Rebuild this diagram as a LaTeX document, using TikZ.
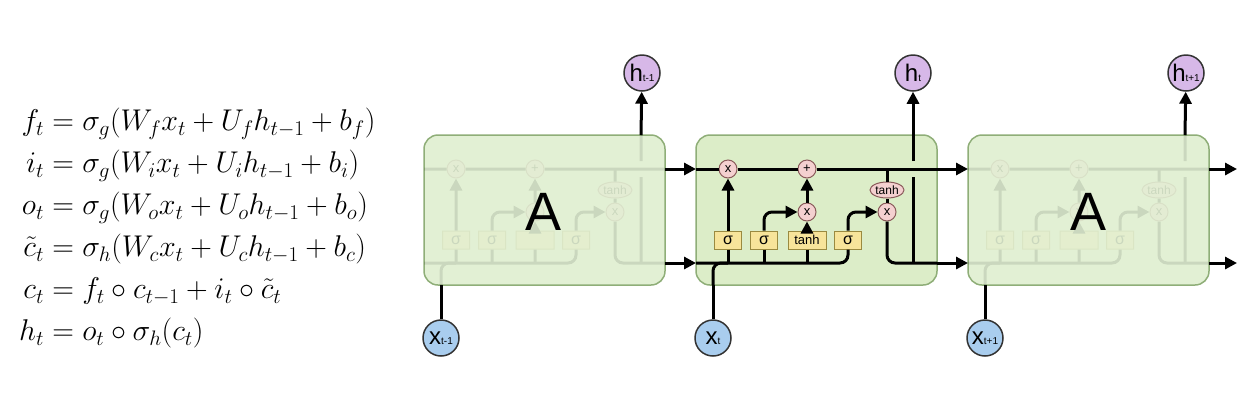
\RequirePackage{fix-cm}
\documentclass[tikz,border=0pt]{standalone}
\usepackage{amsmath}
\usepackage{fontspec}
\newfontfamily\sansf{Liberation Sans}
\usetikzlibrary{arrows.meta,shapes.geometric}
\definecolor{cellfill}{HTML}{DCEDC8}
\definecolor{ghostfill}{HTML}{E2F0D4}
\definecolor{celledge}{HTML}{8FAE78}
\definecolor{gatefill}{HTML}{F7E49A}
\definecolor{gateedge}{HTML}{9A8A40}
\definecolor{opfill}{HTML}{F4D0D0}
\definecolor{opedge}{HTML}{8A5A5A}
\definecolor{hfill}{HTML}{D7B8E8}
\definecolor{xfill}{HTML}{A9CDEE}
\tikzset{
  ln/.style={line width=3pt,black},
  arr/.style={ln,-{Triangle[length=12pt,width=12pt]}},
  box/.style={draw=celledge,fill=cellfill,line width=1.5pt,rounded corners=14pt,minimum width=241pt,minimum height=150pt},
  gate/.style={draw=gateedge,fill=gatefill,line width=1pt,minimum height=18pt,minimum width=27pt,inner sep=1pt,font=\sansf\fontsize{13}{13}\selectfont},
  op/.style={circle,draw=opedge,fill=opfill,line width=1pt,minimum size=18pt,inner sep=0pt,font=\sansf\fontsize{13}{13}\selectfont},
  th/.style={ellipse,draw=opedge,fill=opfill,line width=1pt,minimum width=34pt,minimum height=16pt,inner sep=0pt,font=\sansf\fontsize{12}{12}\selectfont},
  hc/.style={circle,draw=black!80,fill=hfill,line width=1.5pt,minimum size=36pt,inner sep=0pt,font=\sansf\fontsize{24}{24}\selectfont},
  xc/.style={circle,draw=black!80,fill=xfill,line width=1.5pt,minimum size=36pt,inner sep=0pt,font=\sansf\fontsize{24}{24}\selectfont}
}
\newcommand\cellinner[2]{%
  \node[op] (#1xf) at (32,169) {x};
  \node[op] (#1pl) at (111,169) {+};
  \node[op] (#1xi) at (111,212) {x};
  \node[th] (#1th) at (191,190) {tanh};
  \node[op] (#1xo) at (191,212) {x};
  \node[gate,font=\sansf\fontsize{16}{16}\selectfont] (#1g1) at (32,240) {σ};
  \node[gate,font=\sansf\fontsize{16}{16}\selectfont] (#1g2) at (68,240) {σ};
  \node[gate,minimum width=38pt] (#1g3) at (111,240) {#2};
  \node[gate,font=\sansf\fontsize{16}{16}\selectfont] (#1g4) at (152,240) {σ};
  \draw[ln] (#1tl) -- (#1xf) -- (#1pl) -- (#1tr);
  \draw[ln,rounded corners=8pt] (#1bl) -| (#1g4.south);
  \draw[ln,rounded corners=8pt] (#1xin) |- (32,263);
  \draw[ln] (#1g1.south) -- (32,263);
  \draw[ln] (#1g2.south) -- (68,263);
  \draw[ln] (#1g3.south) -- (111,263);
  \draw[arr] (#1g1) -- (#1xf);
  \draw[arr] (#1g3) -- (#1xi);
  \draw[arr] (#1xi) -- (#1pl);
  \draw[arr,rounded corners=8pt] (#1g2.north) |- (#1xi);
  \draw[arr,rounded corners=8pt] (#1g4.north) |- (#1xo);
  \draw[ln] (191,169) -- (#1th);
  \draw[ln] (#1th) -- (#1xo);
  \draw[ln,rounded corners=8pt] (#1xo) |- (#1br);
  \draw[ln] (217,263) -- (217,177);
  \draw[ln] (217,161) -- (#1htop);
}
\newcommand\lstmcell[3]{% prefix, x origin, ghost?
  \begin{scope}[shift={(#2,0)}]
    \coordinate (#1tl) at (0,169); \coordinate (#1tr) at (241,169);
    \coordinate (#1bl) at (0,263); \coordinate (#1br) at (241,263);
    \coordinate (#1xin) at (17,285); \coordinate (#1htop) at (217,135);
    \ifnum#3=1
      \node[box,fill=ghostfill] (#1box) at (120.5,210) {};
      \begin{scope}[opacity=0.1,transparency group]\cellinner{#1}{}\end{scope}
      \node[font=\sansf\fontsize{54}{54}\selectfont] (#1A) at (120,212) {A};
    \else
      \node[box] (#1box) at (120.5,210) {};
      \cellinner{#1}{tanh}
    \fi
  \end{scope}}
\begin{document}
\begin{tikzpicture}[x=1pt,y=-1pt]
\useasboundingbox (0,0) rectangle (1257,400);
\node[anchor=west,inner sep=0pt] (eqs) at (19,228) {\fontsize{30}{39}\selectfont$\begin{aligned}
f_t &= \sigma_g(W_f x_t + U_f h_{t-1} + b_f)\\
i_t &= \sigma_g(W_i x_t + U_i h_{t-1} + b_i)\\
o_t &= \sigma_g(W_o x_t + U_o h_{t-1} + b_o)\\
\tilde{c}_t &= \sigma_h(W_c x_t + U_c h_{t-1} + b_c)\\
c_t &= f_t \circ c_{t-1} + i_t \circ \tilde{c}_t\\
h_t &= o_t \circ \sigma_h(c_t)
\end{aligned}$};
\lstmcell{L}{424}{1}
\lstmcell{M}{696}{0}
\lstmcell{R}{968}{1}
\coordinate (outT) at (1237,169);
\coordinate (outB) at (1237,263);
\draw[arr] (Ltr) -- (Mtl);
\draw[arr] (Lbr) -- (Mbl);
\draw[arr] (Mtr) -- (Rtl);
\draw[arr] (Mbr) -- (Rbl);
\draw[arr] (Rtr) -- (outT);
\draw[arr] (Rbr) -- (outB);
\node[hc] (hL) at (642,73) {h{\fontsize{10}{10}\selectfont t-1}};
\node[hc] (hM) at (913,73) {h{\fontsize{10}{10}\selectfont t}};
\node[hc] (hR) at (1186,73) {h{\fontsize{10}{10}\selectfont t+1}};
\node[xc] (xL) at (441,338) {x{\fontsize{10}{10}\selectfont t-1}};
\node[xc] (xM) at (713,338) {x{\fontsize{10}{10}\selectfont t}};
\node[xc] (xR) at (985,338) {x{\fontsize{10}{10}\selectfont t+1}};
\draw[arr] (Lhtop) -- (hL);
\draw[arr] (Mhtop) -- (hM);
\draw[arr] (Rhtop) -- (hR);
\draw[ln] (xL) -- (Lxin);
\draw[ln] (xM) -- (Mxin);
\draw[ln] (xR) -- (Rxin);
\end{tikzpicture}
\end{document}
